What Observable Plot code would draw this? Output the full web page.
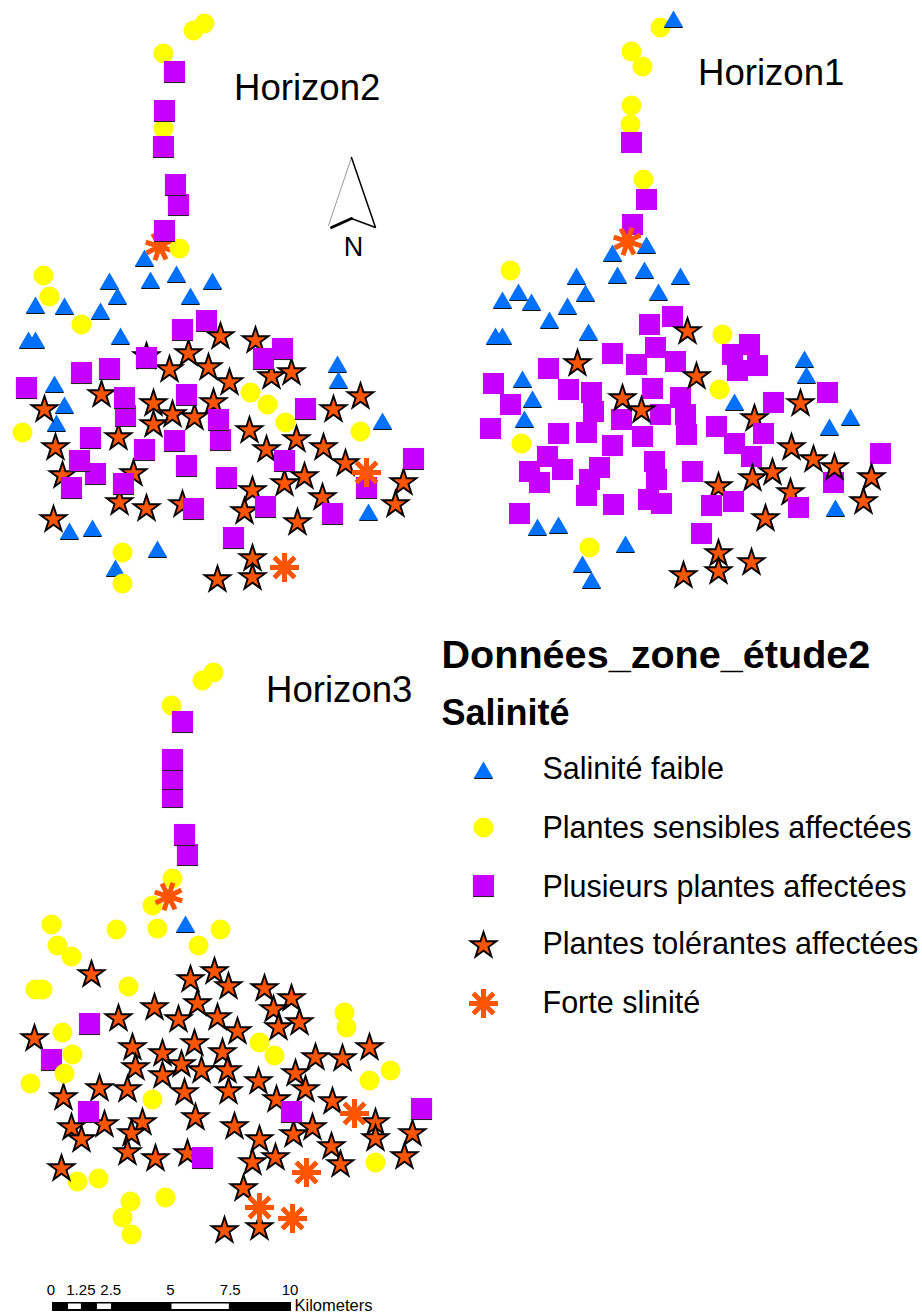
<!DOCTYPE html>
<html><head><meta charset="utf-8">
<style>html,body{margin:0;padding:0;background:#fff}svg{display:block}</style>
<script src="https://cdn.jsdelivr.net/npm/d3@7"></script>
<script src="https://cdn.jsdelivr.net/npm/@observablehq/plot@0.6"></script>
</head><body>
<script>
// Map coordinates of every sample point.
const h2Triangles=[[144,260],[109,283],[150,282],[176,276],[212,283],[117,298],[190,298],[35,307],[64,308],[100,313],[120,338],[28,342],[35,342],[54,386],[64,407],[56,425],[337,366],[338,382],[382,423],[368,514],[69,533],[92,530],[157,551],[115,570]];
const h2Circles=[[204,23],[193,30],[163,53],[163,128],[179,248],[43,275],[49,296],[81,324],[22,432],[250,392],[267,404],[285,422],[360,431],[122,552],[122,583]];
const h2Squares=[[174,71],[164,110],[163,146],[178,204],[175,184],[164,230],[182,329],[206,320],[146,357],[282,348],[263,358],[81,372],[109,368],[26,387],[125,415],[124,397],[186,394],[220,439],[218,419],[305,408],[90,437],[174,440],[144,449],[95,473],[79,460],[186,465],[284,460],[226,477],[123,483],[71,487],[366,487],[413,458],[193,508],[265,506],[332,513],[233,537]];
const h2Stars=[[220,336],[255,340],[146,356],[188,353],[169,369],[208,367],[229,382],[271,376],[291,372],[360,396],[333,409],[101,394],[44,409],[153,403],[213,402],[172,414],[153,424],[194,417],[249,430],[296,439],[118,437],[55,447],[266,449],[323,447],[345,463],[62,475],[133,473],[304,476],[284,483],[252,490],[403,482],[322,497],[119,502],[146,508],[182,504],[244,511],[395,504],[53,519],[297,522],[252,558],[252,577],[217,579]];
const h2Asterisks=[[366,472],[284,567]];
const h2AsterisksStem=[[159,246]];

const h1Triangles=[[612,255],[646,247],[576,278],[617,277],[644,272],[680,278],[518,294],[502,302],[531,304],[585,295],[658,294],[567,308],[549,322],[495,338],[502,338],[588,334],[522,381],[532,401],[524,421],[804,361],[806,377],[734,404],[850,419],[829,429],[835,510],[537,529],[558,527],[625,546],[582,566],[591,582]];
const h1TrianglesAbove=[[673,21]];
const h1Circles=[[660,27],[631,51],[642,66],[631,105],[630,124],[643,179],[510,270],[722,334],[719,389],[521,443],[589,547]];
const h1Squares=[[631,142],[646,199],[632,224],[649,324],[672,316],[655,347],[612,353],[636,364],[675,361],[749,344],[732,354],[757,365],[737,370],[548,368],[493,383],[510,404],[568,389],[591,392],[652,388],[680,397],[827,392],[773,402],[593,411],[490,428],[621,419],[660,414],[685,414],[686,434],[716,426],[763,433],[558,433],[586,432],[642,436],[612,445],[734,443],[751,456],[547,456],[529,471],[562,469],[599,467],[654,461],[589,479],[656,479],[692,471],[539,482],[586,495],[613,504],[648,499],[661,503],[711,505],[733,501],[798,507],[833,482],[880,453],[519,513],[701,533]];
const h1StarsUnder=[[754,418],[718,486],[790,492]];
const h1StarsOver=[[687,331],[577,363],[696,376],[622,398],[641,410],[800,403],[791,447],[813,459],[834,467],[772,472],[752,478],[871,477],[863,501],[765,518],[718,553],[718,571],[751,562],[683,575]];
const h1AsterisksStem=[[627,241]];

const h3Triangles=[[185,926]];
const h3Circles=[[213,672],[202,680],[171,705],[172,878],[152,905],[51,924],[116,929],[157,928],[220,929],[198,945],[57,945],[71,956],[35,989],[42,989],[128,986],[344,1012],[346,1027],[62,1032],[30,1083],[259,1042],[274,1055],[390,1070],[369,1080],[152,1099],[375,1162],[77,1181],[98,1178],[165,1197],[130,1201],[122,1217],[131,1234]];
const h3CirclesAbove=[[72,1054],[64,1073]];
const h3Squares=[[182,721],[172,796],[172,778],[172,759],[187,854],[184,834],[89,1023],[51,1059],[88,1111],[291,1111],[421,1108],[202,1157]];
const h3Stars=[[91,974],[214,971],[190,979],[228,986],[264,988],[291,998],[197,1003],[273,1009],[154,1007],[118,1018],[178,1019],[217,1017],[299,1022],[278,1027],[237,1031],[34,1038],[132,1047],[194,1043],[369,1047],[162,1053],[222,1052],[315,1057],[342,1058],[135,1067],[181,1064],[201,1070],[227,1070],[295,1073],[162,1075],[258,1081],[305,1089],[127,1089],[99,1088],[184,1092],[228,1091],[63,1097],[276,1099],[332,1101],[195,1117],[142,1122],[104,1124],[71,1127],[234,1126],[312,1127],[293,1134],[375,1122],[375,1138],[412,1133],[81,1139],[131,1133],[259,1139],[331,1146],[127,1152],[252,1162],[275,1157],[404,1156],[340,1164],[155,1158],[187,1153],[61,1168],[243,1188],[259,1227],[224,1230]];
const h3AsterisksStem=[[168,896]];
const h3Asterisks=[[354,1113],[306,1172],[259,1207],[292,1218]];

// Horizon titles
const horizonLabels=["Horizon2","Horizon1","Horizon3"];
const horizonX=[233.5,697.5,265.5];
const horizonY=[99,84,701];

// Legend
const legendTitle="Données_zone_étude2";
const legendSubtitle="Salinité";
const legendLabels=["Salinité faible","Plantes sensibles affectées","Plusieurs plantes affectées","Plantes tolérantes affectées","Forte slinité"];
const legendSymbolY=[772,827,885,945,1003];
const legendTextY=[778,837,896,953,1012];

// Scale bar, in kilometres
const scaleTicks=[0,1.25,2.5,5,7.5,10];
const scaleTickLabels=["0","1.25","2.5","5","7.5","10"];
const scaleWhite=[[0.67,1.21],[1.88,2.47],[5,7.4]];

// North arrow outline
const arrowLeft=[[351,157],[328,225]];
const arrowRight=[[351,157],[375,227],[351,218]];
const arrowBase=[[331,227],[351,218]];

const kmX=k=>52+23.9*k;
const BLUE="#0070ff",YEL="#ffff00",PUR="#c500ff",ORG="#ff5500";
const FONT="Liberation Sans, Arial, sans-serif";

const asteriskSymbol={draw(c,size){
  const r=Math.sqrt(size/Math.PI);
  for(let i=0;i<4;i++){const a=i*Math.PI/4,dx=r*Math.cos(a),dy=r*Math.sin(a);
    c.moveTo(-dx,-dy);c.lineTo(dx,dy);}
}};
const X=d=>d[0],Y=d=>d[1];
// Each shape is laid down with its own dark lower edge so overlapping shapes stay separated.
const tri=d=>d.flatMap(p=>[
  Plot.dot([p],{x:X,y:Y,symbol:"triangle",r:7.1,fill:"#111",dy:1}),
  Plot.dot([p],{x:X,y:Y,symbol:"triangle",r:7.1,fill:BLUE})]);
const circ=d=>Plot.dot(d,{x:X,y:Y,r:10,fill:YEL});
const sqr=(d,edge)=>edge?d.flatMap(p=>[
  Plot.dot([p],{x:X,y:Y,symbol:"square",r:11.9,fill:"#222",dy:1}),
  Plot.dot([p],{x:X,y:Y,symbol:"square",r:11.9,fill:PUR})]):
  Plot.dot(d,{x:X,y:Y,symbol:"square",r:11.9,fill:PUR});
const star=d=>Plot.dot(d,{x:X,y:Y,symbol:"star",r:8.1,fill:ORG,stroke:"#000",strokeWidth:1.9});
const ast=(d,rot=0)=>Plot.dot(d,{x:X,y:Y,symbol:asteriskSymbol,r:14.5,rotate:rot,fill:"none",stroke:ORG,strokeWidth:5});

const lx=483;
const chart=Plot.plot({
  width:922,height:1313,margin:0,
  x:{domain:[0,922],axis:null},
  y:{domain:[1313,0],axis:null},
  style:{background:"#fff",fontFamily:FONT},
  marks:[
    // Horizon 2
    ast(h2AsterisksStem,18),tri(h2Triangles),circ(h2Circles),star(h2Stars),sqr(h2Squares,true),ast(h2Asterisks),
    // Horizon 1
    tri(h1Triangles),circ(h1Circles),tri(h1TrianglesAbove),star(h1StarsUnder),sqr(h1Squares,false),star(h1StarsOver),ast(h1AsterisksStem,18),
    // Horizon 3
    tri(h3Triangles),circ(h3Circles),ast(h3AsterisksStem,18),star(h3Stars),sqr(h3Squares,true),circ(h3CirclesAbove),ast(h3Asterisks),
    // Titles
    Plot.text(horizonLabels,{x:(d,i)=>horizonX[i],y:(d,i)=>horizonY[i],text:d=>d,textAnchor:"start",lineAnchor:"bottom",fontSize:36.6,fontFamily:FONT,fill:"#000"}),
    // North arrow
    Plot.line(arrowLeft,{x:X,y:Y,stroke:"#999",strokeWidth:1}),
    Plot.line(arrowRight,{x:X,y:Y,stroke:"#000",strokeWidth:1.5}),
    Plot.line(arrowBase,{x:X,y:Y,stroke:"#000",strokeWidth:3}),
    Plot.text(["N"],{x:[353],y:[255],textAnchor:"middle",lineAnchor:"bottom",fontSize:27,fontFamily:FONT,fill:"#000"}),
    // Legend
    Plot.text([legendTitle],{x:[441],y:[667],textAnchor:"start",lineAnchor:"bottom",fontSize:39.6,fontWeight:"bold",fontFamily:FONT,fill:"#000"}),
    Plot.text([legendSubtitle],{x:[441],y:[724],textAnchor:"start",lineAnchor:"bottom",fontSize:36,fontWeight:"bold",fontFamily:FONT,fill:"#000"}),
    Plot.text(legendLabels,{x:()=>542,y:(d,i)=>legendTextY[i],text:d=>d,textAnchor:"start",lineAnchor:"bottom",fontSize:30.5,fontFamily:FONT,fill:"#000"}),
    tri([[lx,legendSymbolY[0]]]),circ([[lx,legendSymbolY[1]]]),sqr([[lx,legendSymbolY[2]]],true),
    star([[lx,legendSymbolY[3]]]),ast([[lx,legendSymbolY[4]]]),
    // Scale bar
    Plot.rect([[0,10]],{x1:d=>kmX(d[0]),x2:d=>kmX(d[1]),y1:()=>1302,y2:()=>1311,fill:"#000"}),
    Plot.rect(scaleWhite,{x1:d=>kmX(d[0]),x2:d=>kmX(d[1]),y1:()=>1303.5,y2:()=>1309,fill:"#fff"}),
    Plot.text(scaleTicks,{x:kmX,y:()=>1294,dx:-1.5,text:(d,i)=>scaleTickLabels[i],textAnchor:"middle",lineAnchor:"bottom",fontSize:15,fontFamily:FONT,fill:"#000"}),
    Plot.text(["Kilometers"],{x:[294],y:[1310],textAnchor:"start",lineAnchor:"bottom",fontSize:16.5,fontFamily:FONT,fill:"#000"})
  ].flat().filter(Boolean)
});
document.body.appendChild(chart);
</script>
</body></html>
